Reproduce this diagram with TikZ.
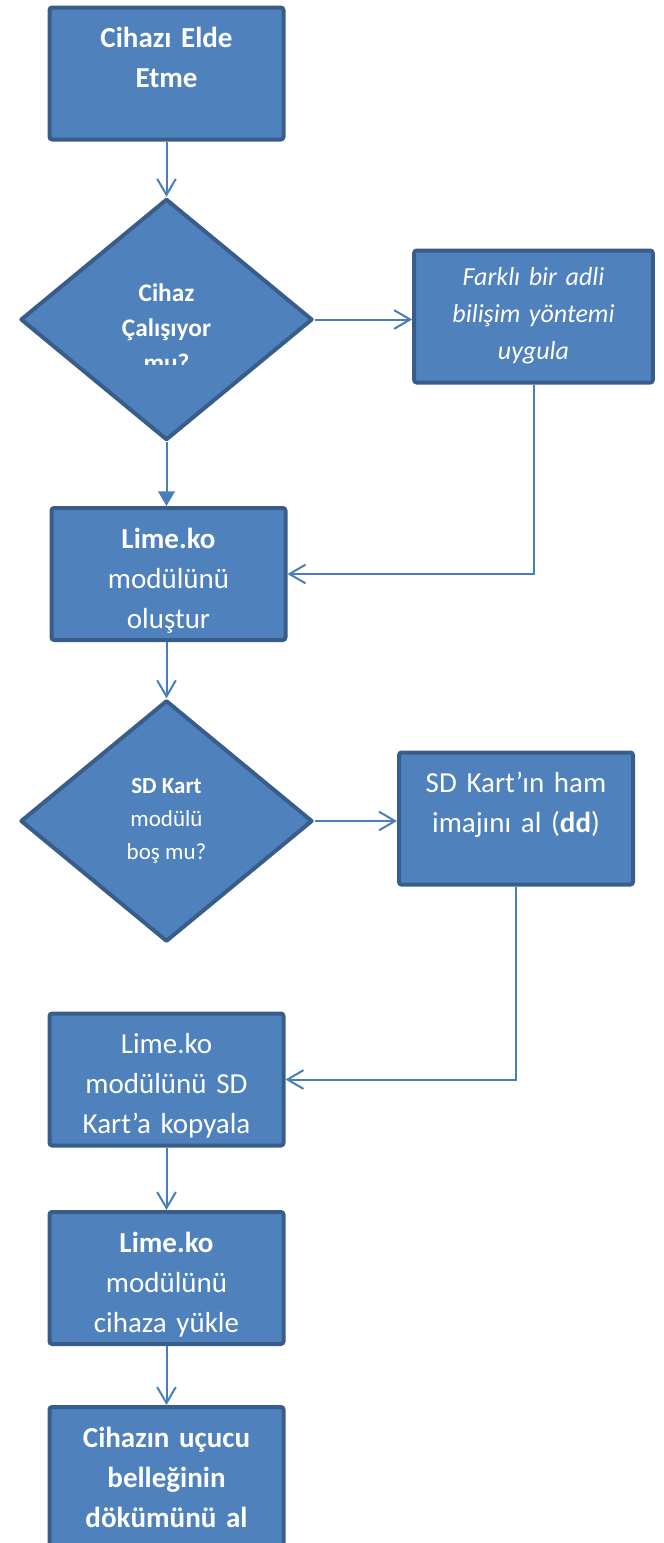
\documentclass[tikz,border=0pt]{standalone}
\usepackage{fontspec}
\setmainfont{Carlito}
\usetikzlibrary{shapes.geometric, arrows.meta}
\definecolor{boxfill}{HTML}{4F81BD}
\definecolor{boxline}{HTML}{385D8A}
\definecolor{arrline}{HTML}{4A7EBB}
\begin{document}
\begin{tikzpicture}[x=0.75pt, y=-0.75pt,
  blk/.style={rectangle, rounded corners=2pt, draw=boxline, line width=3pt,
              fill=boxfill, text=white, align=center, inner sep=0pt,
              text width=175.5pt, text height=30pt, text depth=69pt,
              font=\fontsize{21.75pt}{30pt}\selectfont},
  dec/.style={diamond, draw=boxline, line width=3pt, line join=round,
              fill=boxfill, text=white, align=center, inner sep=0pt,
              minimum width=219pt, minimum height=181pt},
  dtxt/.style={text=white, align=center, inner sep=0pt,
               font=\bfseries\fontsize{19pt}{26.25pt}\selectfont},
  arr/.style={-{Straight Barb[length=12pt, width=14pt]}, line width=1.5pt, arrline},
  arrf/.style={-{Triangle[length=11pt, width=12.5pt]}, line width=1.5pt, arrline},
]
\useasboundingbox (0,0) rectangle (664,1543);
\clip (0,0) rectangle (664,1543);

% Main column
\node[blk, font=\bfseries\fontsize{21.75pt}{30pt}\selectfont] (elde) at (166.5,73.5) {Cihazı Elde\\Etme};
\node[dec] (d1) at (166.5,319.5) {};
\begin{scope}
  \clip (17,250) rectangle (316,364);
  \node[dtxt] (d1txt) at (166.5,328) {Cihaz\\Çalışıyor\\mu?};
\end{scope}
\node[blk] (lime1) at (168.5,574) {\textbf{Lime.ko}\\modülünü\\oluştur};
\node[dec, font=\fontsize{17.25pt}{25pt}\selectfont] (d2) at (166.5,821) {\textbf{SD Kart}\\modülü\\boş mu?};
\node[blk] (kopya) at (166.5,1079.5) {Lime.ko\\modülünü SD\\Kart’a kopyala};
\node[blk] (yukle) at (166.5,1278) {\textbf{Lime.ko}\\modülünü\\cihaza yükle};
\node[blk, text depth=90pt, font=\bfseries\fontsize{21.75pt}{30pt}\selectfont] (bellek) at (166.5,1487) {Cihazın uçucu\\belleğinin\\dökümünü al};

% Side boxes
\node[blk, text width=179pt, text height=26pt, text depth=73pt,
      font=\itshape\fontsize{19.5pt}{28pt}\selectfont] (fark) at (533.5,316.5) {Farklı bir adli\\bilişim yöntemi\\uygula};
\node[blk] (sd) at (516,818.5) {SD Kart’ın ham\\imajını al (\textbf{dd})};

% Connectors
\draw[arr] (elde.south) -- (d1.north);
\draw[arr] (d1.east) -- (d1.east -| fark.west);
\draw[arrf] (d1.south) -- (d1.south |- lime1.north);
\draw[arr] (fark.south) |- (lime1.east);
\draw[arr] (lime1.south -| d2.north) -- (d2.north);
\draw[arr] (d2.east) -- (d2.east -| sd.west);
\draw[arr] (sd.south) |- (kopya.east);
\draw[arr] (kopya.south) -- (yukle.north);
\draw[arr] (yukle.south) -- (bellek.north);

\end{tikzpicture}
\end{document}
